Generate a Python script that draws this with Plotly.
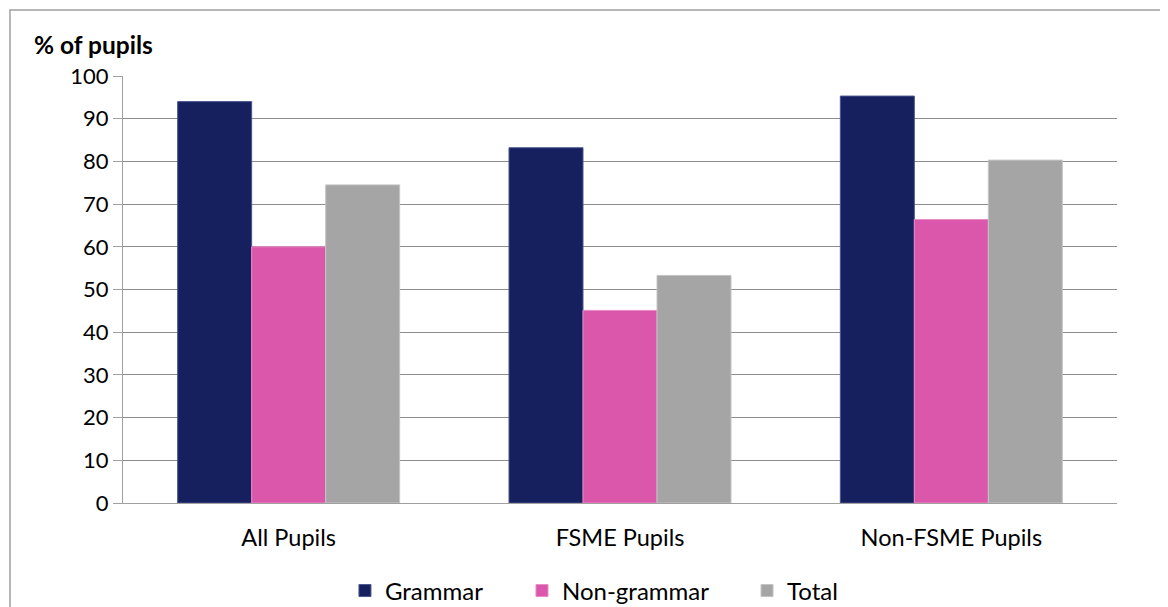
import plotly.graph_objects as go

categories = ["All Pupils", "FSME Pupils", "Non-FSME Pupils"]
grammar = [94.0, 83.2, 95.3]
non_grammar = [60.0, 45.1, 66.4]
total = [74.5, 53.3, 80.3]

series = [
    ("Grammar", grammar, "#16205f", "#4a5590"),
    ("Non-grammar", non_grammar, "#db57ab", "#e88cc6"),
    ("Total", total, "#a5a5a5", "#c4c4c4"),
]
# one legend per series so the item spacing can follow the reference
legend_ids = ["legend", "legend2", "legend3"]
legend_x = [0.2233, 0.4014, 0.6278]

font_name = "Lato"

fig = go.Figure()
for (name, vals, color, edge), lid in zip(series, legend_ids):
    fig.add_trace(go.Bar(x=categories, y=vals, name=name, legend=lid,
                         marker=dict(color=color, line=dict(color=edge, width=1))))

legend_style = dict(orientation="h", xanchor="left", y=-0.206, yanchor="middle",
                    font=dict(size=24), bgcolor="rgba(0,0,0,0)")

# page body has an 8px margin, so the figure is 8px smaller on each axis
fig.update_layout(
    width=1160, height=599,
    margin=dict(l=115, r=51, t=68, b=104, autoexpand=False),
    paper_bgcolor="white", plot_bgcolor="white",
    barmode="group", bargap=0.33, bargroupgap=0,
    font=dict(family=font_name, size=22, color="black"),
    showlegend=True,
    legend=dict(x=legend_x[0], **legend_style),
    legend2=dict(x=legend_x[1], **legend_style),
    legend3=dict(x=legend_x[2], **legend_style),
    xaxis=dict(showline=True, linecolor="#a0a0a0", linewidth=1, ticks="",
               ticklabelstandoff=14, tickfont=dict(size=23.5)),
    yaxis=dict(range=[0, 100], dtick=10, showline=True, linecolor="#a0a0a0", linewidth=1,
               showgrid=True, gridcolor="#8c8c8c", gridwidth=1, zeroline=False,
               ticks="outside", ticklen=9, tickcolor="#a0a0a0", tickfont=dict(size=22)),
)

fig.add_annotation(text="<b>% of pupils</b>", xref="paper", yref="paper",
                   x=-0.0915, y=1.0726, xanchor="left", yanchor="middle",
                   showarrow=False, font=dict(size=24.5))

# chart border
fig.add_shape(type="rect", xref="paper", yref="paper",
              x0=-0.1137, y0=-0.3, x1=1.1, y1=1.1546,
              line=dict(color="#a0a0a0", width=1.5), layer="below")

fig.write_html("out.html")
